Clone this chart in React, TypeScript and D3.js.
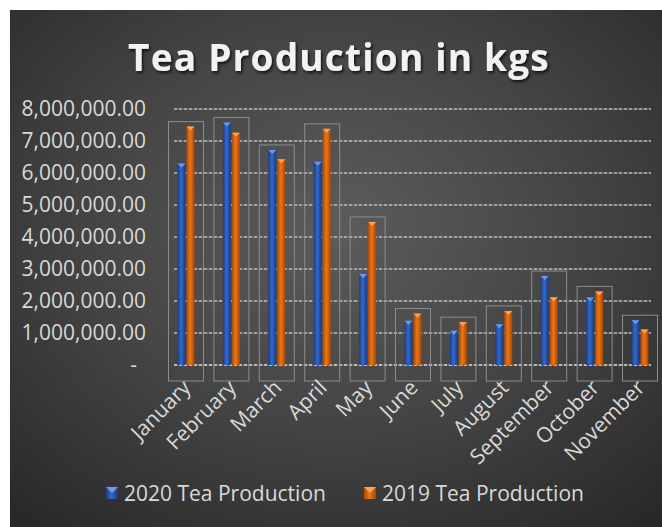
import React from "react";
import * as d3 from "d3";

const months = ["January","February","March","April","May","June","July","August","September","October","November"];
const prod2020 = [6300000, 7580000, 6720000, 6350000, 2840000, 1380000, 1070000, 1270000, 2780000, 2110000, 1400000];
const prod2019 = [7450000, 7260000, 6430000, 7380000, 4470000, 1610000, 1340000, 1690000, 2120000, 2300000, 1110000];
const yTicks = [0, 1000000, 2000000, 3000000, 4000000, 5000000, 6000000, 7000000, 8000000];
const seriesNames = ["2020 Tea Production", "2019 Tea Production"];

const W = 662, H = 527;

export default function App() {
  const y = d3.scaleLinear().domain([0, 8000000]).range([365, 109]);
  const x = d3.scaleBand<string>().domain(months).range([163.3, 662.7]).padding(0);
  const gridX0 = 174, gridX1 = 651;
  const fmt = (v: number) => (v === 0 ? "-" : d3.format(",.2f")(v));
  const barW = 8;
  const font = "'Open Sans', 'Noto Sans', sans-serif";

  return (
    <svg width={W} height={H} style={{ position: "absolute", left: 0, top: 0, display: "block" }}>
      <defs>
        <radialGradient id="bg" cx="0.5" cy="0.42" r="0.75">
          <stop offset="0%" stopColor="#5c5c5c" />
          <stop offset="55%" stopColor="#424242" />
          <stop offset="100%" stopColor="#282828" />
        </radialGradient>
        <linearGradient id="gBlue" x1="0" x2="1" y1="0" y2="0">
          <stop offset="0%" stopColor="#1c3d82" />
          <stop offset="45%" stopColor="#3468cc" />
          <stop offset="100%" stopColor="#1a3a7c" />
        </linearGradient>
        <linearGradient id="gOrange" x1="0" x2="1" y1="0" y2="0">
          <stop offset="0%" stopColor="#a94905" />
          <stop offset="45%" stopColor="#ee7514" />
          <stop offset="100%" stopColor="#a44705" />
        </linearGradient>
        <filter id="tshadow" x="-10%" y="-30%" width="120%" height="160%">
          <feDropShadow dx="1.5" dy="2" stdDeviation="1.6" floodColor="#000" floodOpacity="0.75" />
        </filter>
      </defs>
      <rect x={0} y={0} width={W} height={H} fill="#ffffff" />
      <rect x={10} y={10} width={W - 10} height={H - 10} fill="url(#bg)" />

      <text x={339} y={71} textAnchor="middle" fill="#f2f2f2" fontFamily={font} fontWeight={700}
        fontSize={37} letterSpacing={1.2} filter="url(#tshadow)">Tea Production in kgs</text>

      {/* gridlines */}
      {yTicks.map((t) => (
        <g key={t}>
          <line x1={gridX0} x2={gridX1} y1={y(t)} y2={y(t)} stroke="#7a7a7a" strokeWidth={1.2} />
          <line x1={gridX0} x2={gridX1} y1={y(t)} y2={y(t)} stroke="#ededed" strokeWidth={1.4}
            strokeDasharray="3,2" opacity={t === 0 ? 0.85 : 0.6} />
        </g>
      ))}

      {/* y labels */}
      {yTicks.map((t) => (
        <text key={"l" + t} x={t === 0 ? 137 : 146} y={y(t)} dy="0.35em" textAnchor="end"
          fill="#d9d9d9" fontFamily={font} fontSize={21}>{fmt(t)}</text>
      ))}

      {/* frame boxes */}
      {months.map((m, i) => {
        const c = (x(m) as number) + x.bandwidth() / 2;
        const top = Math.min(y(prod2020[i]), y(prod2019[i])) - 5;
        return (
          <rect key={"box" + m} x={c - 17.5} y={top} width={35} height={381 - top}
            fill="none" stroke="#8c8c8c" strokeWidth={1} />
        );
      })}

      {/* bars */}
      {months.map((m, i) => {
        const c = (x(m) as number) + x.bandwidth() / 2;
        const bx = c - 0.5 - barW;
        const ox = c + 0.5;
        const by = y(prod2020[i]);
        const oy = y(prod2019[i]);
        return (
          <g key={"bar" + m}>
            <rect x={bx} y={by} width={barW} height={y(0) - by} fill="url(#gBlue)" />
            <path d={`M${bx},${by} L${bx + barW},${by} L${bx + barW / 2},${by + 4} Z`} fill="#6c9be8" />
            <rect x={ox} y={oy} width={barW} height={y(0) - oy} fill="url(#gOrange)" />
            <path d={`M${ox},${oy} L${ox + barW},${oy} L${ox + barW / 2},${oy + 4} Z`} fill="#f9a458" />
          </g>
        );
      })}

      {/* x labels */}
      {months.map((m) => {
        const c = (x(m) as number) + x.bandwidth() / 2;
        return (
          <text key={"x" + m} transform={`translate(${c + 6},${389}) rotate(-45)`} textAnchor="end"
            fill="#d9d9d9" fontFamily={font} fontSize={21}>{m}</text>
        );
      })}

      {/* legend */}
      <g>
        <rect x={106} y={487} width={12} height={12} fill="url(#gBlue)" />
        <path d="M106,487 L118,487 L112,493 Z" fill="#6c9be8" />
        <text x={124} y={501} fill="#d9d9d9" fontFamily={font} fontSize={21}>{seriesNames[0]}</text>
        <rect x={364} y={487} width={12} height={12} fill="url(#gOrange)" />
        <path d="M364,487 L376,487 L370,493 Z" fill="#f9a458" />
        <text x={382} y={501} fill="#d9d9d9" fontFamily={font} fontSize={21}>{seriesNames[1]}</text>
      </g>
    </svg>
  );
}
